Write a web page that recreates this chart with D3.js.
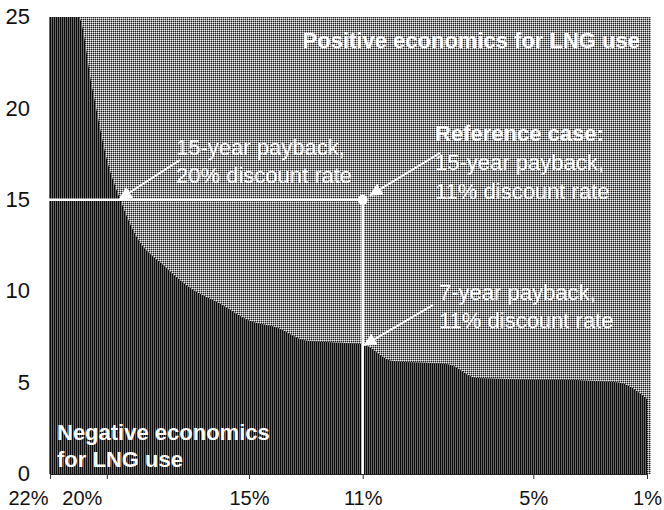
<!DOCTYPE html>
<html><head><meta charset="utf-8">
<script src="https://cdn.jsdelivr.net/npm/d3@7"></script>
<style>
body{margin:0;background:#fff}
svg{display:block}
text{font-family:"Liberation Sans",Arial,Helvetica,sans-serif}
</style>
</head><body>
<svg id="c" width="664" height="510"></svg>
<script>
// ---- data ----
const discountRates = [22, 21, 20.5, 20, 19.5, 19, 18, 17, 16, 15, 14, 13, 12, 11, 10, 9, 8, 7, 6, 5, 4, 3, 2, 1];
const paybackYears  = [25, 25, 21, 17.2, 14.9, 13.1, 11.4, 10.1, 9.3, 8.4, 8.0, 7.3, 7.2, 7.1, 6.2, 6.1, 6.0, 5.25, 5.2, 5.15, 5.15, 5.1, 5.0, 4.1];
const xTickValues = [22, 20, 15, 11, 5, 1];
const yTickValues = [0, 5, 10, 15, 20, 25];
const referenceCase = {rate: 11, years: 15};
const altPoints = [{rate: 19.6, years: 15}, {rate: 11, years: 15}, {rate: 11, years: 7}];
const regionLabels = [["Positive economics for LNG use"], ["Negative economics", "for LNG use"]];
const noteLabels = [
  ["15-year payback,", "20% discount rate"],
  ["Reference case:", "15-year payback,", "11% discount rate"],
  ["7-year payback,", "11% discount rate"]
];

// ---- layout ----
const svg = d3.select("#c");
const L = 49, R = 648, T = 17, B = 474;
const x = d3.scaleLinear().domain([22, 1]).range([50, 647]);
const y = d3.scaleLinear().domain([0, 25]).range([B, T]);

const defs = svg.append("defs");
const pl = defs.append("pattern").attr("id", "light").attr("patternUnits", "userSpaceOnUse")
  .attr("width", 2).attr("height", 2);
pl.append("rect").attr("width", 2).attr("height", 2).attr("fill", "#1a1a1a");
pl.append("rect").attr("x", 0).attr("y", 0).attr("width", 1).attr("height", 1).attr("fill", "#f0f0f0");
pl.append("rect").attr("x", 1).attr("y", 0).attr("width", 1).attr("height", 1).attr("fill", "#969696");
pl.append("rect").attr("x", 0).attr("y", 1).attr("width", 1).attr("height", 1).attr("fill", "#969696");
const pd = defs.append("pattern").attr("id", "dark").attr("patternUnits", "userSpaceOnUse")
  .attr("width", 2).attr("height", 2);
pd.append("rect").attr("width", 2).attr("height", 2).attr("fill", "#080808");
pd.append("rect").attr("x", 1).attr("y", 0).attr("width", 1).attr("height", 2).attr("fill", "#6a6a6a");

defs.append("clipPath").attr("id", "plotclip").append("rect")
  .attr("x", L).attr("y", T).attr("width", R - L).attr("height", B - T);

defs.append("marker").attr("id", "arr").attr("viewBox", "0 0 10 10")
  .attr("refX", 9).attr("refY", 5).attr("markerWidth", 13).attr("markerHeight", 13)
  .attr("markerUnits", "userSpaceOnUse").attr("orient", "auto")
  .append("path").attr("d", "M0,0 L10,5 L0,10 Z").attr("fill", "#fff");

// background (positive economics)
svg.append("rect").attr("x", L).attr("y", T).attr("width", R - L + 3).attr("height", B - T)
  .attr("fill", "url(#light)");

// negative economics area
const data = discountRates.map((r, i) => ({r, v: paybackYears[i]}));
const area = d3.area().x(d => x(d.r)).y0(B).y1(d => y(d.v)).curve(d3.curveMonotoneX);
svg.append("g").attr("clip-path", "url(#plotclip)")
  .append("path").datum(data).attr("d", area).attr("fill", "url(#dark)");
svg.append("rect").attr("x", L).attr("y", T).attr("width", x(22) - L).attr("height", B - T).attr("fill", "url(#dark)");

// reference lines
const g = svg.append("g");
g.append("line").attr("x1", L).attr("x2", x(referenceCase.rate))
  .attr("y1", y(referenceCase.years)).attr("y2", y(referenceCase.years))
  .attr("stroke", "#fff").attr("stroke-width", 2.5);
g.append("line").attr("x1", x(referenceCase.rate)).attr("x2", x(referenceCase.rate))
  .attr("y1", y(referenceCase.years)).attr("y2", B)
  .attr("stroke", "#fff").attr("stroke-width", 2.5);
g.append("circle").attr("cx", x(referenceCase.rate)).attr("cy", y(referenceCase.years))
  .attr("r", 5).attr("fill", "#fff");

// axes
const xAxis = d3.axisBottom(x).tickValues(xTickValues).tickFormat(d => d + "%").tickSize(5).tickPadding(12);
const xg = svg.append("g").attr("transform", `translate(0,${B})`).call(xAxis);
xg.select(".domain").attr("stroke", "#222");
xg.selectAll(".tick line").attr("stroke", "#333");
xg.selectAll("text").attr("font-size", 20).attr("fill", "#111")
  .attr("font-family", "Liberation Sans, Arial, sans-serif")
  .attr("dx", d => d === 22 ? -22 : d === 20 ? -25 : 0);

const yAxis = d3.axisLeft(y).tickValues(yTickValues).tickSize(0).tickPadding(19);
const yg = svg.append("g").attr("transform", `translate(${L},0)`).call(yAxis);
yg.select(".domain").remove();
yg.selectAll("text").attr("font-size", 22).attr("fill", "#111").attr("dy", "0.3em")
  .attr("font-family", "Liberation Sans, Arial, sans-serif");

// labels
function multi(lines, xx, yy, lh, opts) {
  const t = svg.append("text").attr("x", xx).attr("y", yy).attr("fill", "#fff")
    .attr("font-size", opts.size || 22)
    .attr("text-anchor", opts.anchor || "start");
  lines.forEach((ln, i) => {
    t.append("tspan").attr("x", xx).attr("dy", i === 0 ? 0 : lh).text(ln)
      .attr("font-weight", (opts.boldFirst && i === 0) || opts.bold ? "bold" : "normal");
  });
}
multi(regionLabels[0], 640, 48, 27, {bold: true, anchor: "end"});
multi(regionLabels[1], 57, 440, 27, {bold: true});
multi(noteLabels[0], 176, 155, 28, {});
multi(noteLabels[1], 435, 141, 29, {boldFirst: true});
multi(noteLabels[2], 439, 300, 28, {});

// arrows
const arrows = [
  {x1: 180, y1: 160, p: altPoints[0], off: 2},
  {x1: 440, y1: 153, p: altPoints[1], off: 9},
  {x1: 433, y1: 305, p: altPoints[2], off: 2}
];
arrows.forEach(a => {
  const tx = x(a.p.rate), ty = y(a.p.years);
  const dx = tx - a.x1, dy = ty - a.y1, len = Math.hypot(dx, dy);
  svg.append("line").attr("x1", a.x1).attr("y1", a.y1)
    .attr("x2", tx - dx / len * a.off).attr("y2", ty - dy / len * a.off)
    .attr("stroke", "#fff").attr("stroke-width", 2).attr("marker-end", "url(#arr)");
});
</script>
</body></html>
